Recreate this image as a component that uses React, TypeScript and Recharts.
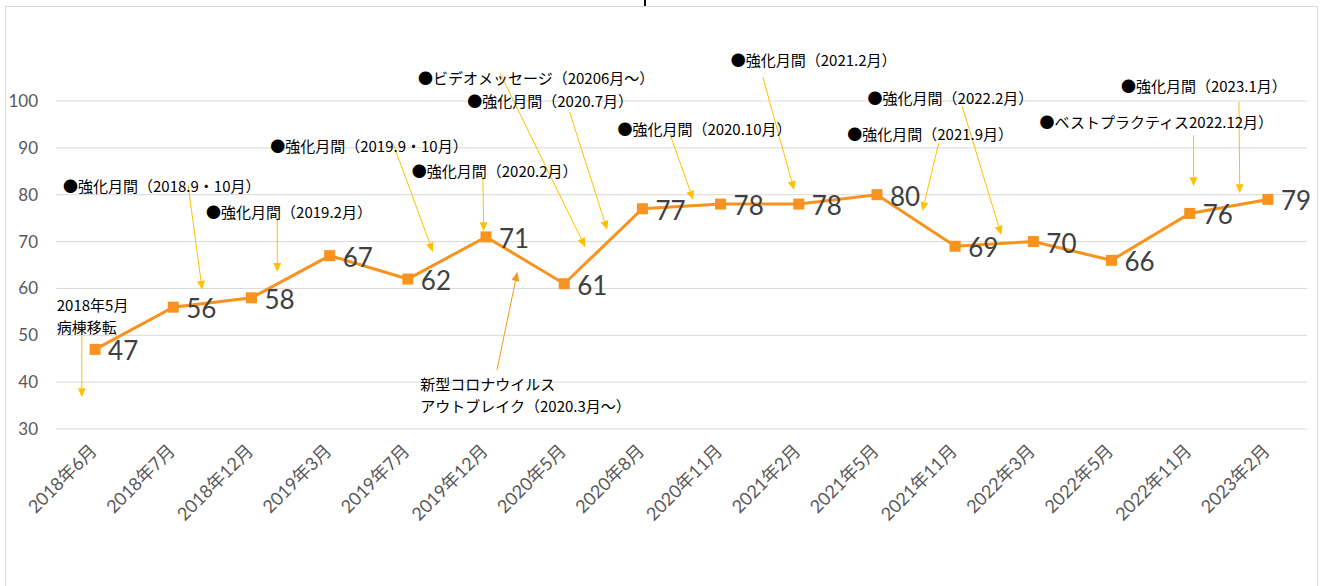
import { LineChart, Line, XAxis, YAxis, CartesianGrid, LabelList, ReferenceDot, ReferenceLine } from 'recharts';

const MONTHS = [
    '2018年6月', '2018年7月', '2018年12月', '2019年3月', '2019年7月', '2019年12月', '2020年5月', '2020年8月',
    '2020年11月', '2021年2月', '2021年5月', '2021年11月', '2022年3月', '2022年5月', '2022年11月', '2023年2月',
];
const SCORES = [47, 56, 58, 67, 62, 71, 61, 77, 78, 78, 80, 69, 70, 66, 76, 79];
const Y_TICKS = [30, 40, 50, 60, 70, 80, 90, 100];
const X_TICKS = MONTHS.map((_, i) => i);

// annotation texts, placed in chart units (x = month index, y = score)
const NOTES = [
    { lines: ['●強化月間（2018.9・10月）'], x: -0.41, y: 82.0 },
    { lines: ['●強化月間（2019.2月）'], x: 1.42, y: 76.5 },
    { lines: ['●強化月間（2019.9・10月）'], x: 2.24, y: 90.6 },
    { lines: ['●強化月間（2020.2月）'], x: 4.05, y: 85.2 },
    { lines: ['●ビデオメッセージ（20206月～）'], x: 4.13, y: 105.1 },
    { lines: ['●強化月間（2020.7月）'], x: 4.76, y: 100.2 },
    { lines: ['●強化月間（2020.10月）'], x: 6.68, y: 94.2 },
    { lines: ['●強化月間（2021.2月）'], x: 8.13, y: 108.9 },
    { lines: ['●強化月間（2022.2月）'], x: 9.88, y: 100.8 },
    { lines: ['●強化月間（2021.9月）'], x: 9.62, y: 93.15 },
    { lines: ['●ベストプラクティス2022.12月）'], x: 12.08, y: 95.7 },
    { lines: ['●強化月間（2023.1月）'], x: 13.12, y: 103.4 },
    { lines: ['2018年5月', '病棟移転'], x: -0.49, y: 56.7 },
    { lines: ['新型コロナウイルス', 'アウトブレイク（2020.3月～）'], x: 4.16, y: 39.8 },
];

const ARROWS = [
    { from: [1.19, 82.0], to: [1.37, 59.7], color: '#FFC000' },
    { from: [2.33, 75.0], to: [2.33, 63.5], color: '#FFC000' },
    { from: [3.81, 91.0], to: [4.32, 67.8], color: '#FFC000' },
    { from: [4.96, 83.8], to: [4.97, 72.2], color: '#FFC000' },
    { from: [5.18, 105.9], to: [6.27, 68.8], color: '#FFC000' },
    { from: [6.07, 97.6], to: [6.55, 72.5], color: '#FFC000' },
    { from: [7.35, 93.1], to: [7.65, 78.9], color: '#FFC000' },
    { from: [8.54, 105.1], to: [8.94, 81.0], color: '#FFC000' },
    { from: [11.09, 98.9], to: [11.59, 71.4], color: '#FFC000' },
    { from: [10.79, 91.0], to: [10.58, 76.5], color: '#FFC000' },
    { from: [14.05, 92.7], to: [14.05, 81.8], color: '#FFC000' },
    { from: [14.63, 99.8], to: [14.64, 80.3], color: '#FFC000' },
    { from: [-0.17, 51.5], to: [-0.17, 36.8], color: '#FFC000' },
    { from: [5.14, 42.6], to: [5.40, 63.5], color: '#F7931E' },
];

const ORANGE = '#F7931E';
const FONT = "Lato, 'Noto Sans CJK JP', sans-serif";
const NOTE_FONT = "'Noto Sans CJK JP', sans-serif";

const data = SCORES.map((v, i) => ({ i, score: v }));

function SquareDot(props: any) {
    const { cx, cy } = props;
    if (cx == null || cy == null) return null;
    return <rect x={cx - 5.5} y={cy - 5.5} width={11} height={11} fill={ORANGE} />;
}

function MonthTick(props: any) {
    const { x, y, payload } = props;
    return (
        <text
            transform={`translate(${x + 3},${y + 15}) rotate(-45)`}
            textAnchor="end"
            fontSize={18}
            fill="#595959"
            fontFamily={FONT}
        >
            {MONTHS[payload.value]}
        </text>
    );
}

function arrowShape(color: string) {
    return (props: any) => {
        const { x1, y1, x2, y2 } = props;
        const ang = Math.atan2(y2 - y1, x2 - x1);
        const len = 9;
        const half = 4;
        const bx = x2 - len * Math.cos(ang);
        const by = y2 - len * Math.sin(ang);
        const px = -Math.sin(ang) * half;
        const py = Math.cos(ang) * half;
        return (
            <g>
                <line x1={x1} y1={y1} x2={bx} y2={by} stroke={color} strokeWidth={1} />
                <polygon points={`${x2},${y2} ${bx + px},${by + py} ${bx - px},${by - py}`} fill={color} />
            </g>
        );
    };
}

function noteShape(lines: string[]) {
    return (props: any) => {
        const { cx, cy } = props;
        return (
            <text x={cx} y={cy} fontSize={15} fill="#000" fontFamily={NOTE_FONT} dominantBaseline="central">
                {lines.map((t, k) => (
                    <tspan key={k} x={cx} dy={k === 0 ? 0 : 22}>{t}</tspan>
                ))}
            </text>
        );
    };
}

export default function App() {
    return (
        <div style={{ position: 'fixed', left: 0, top: 0, width: 1325, height: 586, background: '#fff', overflow: 'hidden' }}>
            <div style={{ position: 'absolute', left: 5, top: 6, width: 1311, height: 600, border: '1px solid #D9D9D9' }} />
            <div style={{ position: 'absolute', left: 644, top: 0, width: 2, height: 6, background: '#000' }} />
            <div style={{ position: 'absolute', left: 0, top: 0 }}>
                <LineChart width={1325} height={586} data={data} margin={{ top: 101, right: 18, bottom: 57, left: 0 }}>
                    <CartesianGrid vertical={false} stroke="#D9D9D9" />
                    <XAxis
                        type="number"
                        dataKey="i"
                        domain={[-0.5, 15.5]}
                        ticks={X_TICKS}
                        interval={0}
                        axisLine={false}
                        tickLine={false}
                        height={100}
                        tick={<MonthTick />}
                    />
                    <YAxis
                        domain={[30, 100]}
                        ticks={Y_TICKS}
                        width={56}
                        axisLine={false}
                        tickLine={false}
                        tickMargin={12}
                        tick={{ fill: '#595959', fontSize: 17, fontFamily: FONT }}
                    />
                    <Line
                        dataKey="score"
                        stroke={ORANGE}
                        strokeWidth={3}
                        dot={<SquareDot />}
                        activeDot={false}
                        isAnimationActive={false}
                    >
                        <LabelList
                            dataKey="score"
                            content={(p: any) => (
                                <text x={p.x + 13} y={p.y + 1} fontSize={26} fill="#404040" fontFamily={FONT} dominantBaseline="central">
                                    {p.value}
                                </text>
                            )}
                        />
                    </Line>
                    {ARROWS.map((a, k) => (
                        <ReferenceLine
                            key={`a-${k}`}
                            segment={[{ x: a.from[0], y: a.from[1] }, { x: a.to[0], y: a.to[1] }]}
                            ifOverflow="visible"
                            shape={arrowShape(a.color)}
                        />
                    ))}
                    {NOTES.map((n, k) => (
                        <ReferenceDot
                            key={`n-${k}`}
                            x={n.x}
                            y={n.y}
                            ifOverflow="visible"
                            shape={noteShape(n.lines)}
                        />
                    ))}
                </LineChart>
            </div>
        </div>
    );
}
